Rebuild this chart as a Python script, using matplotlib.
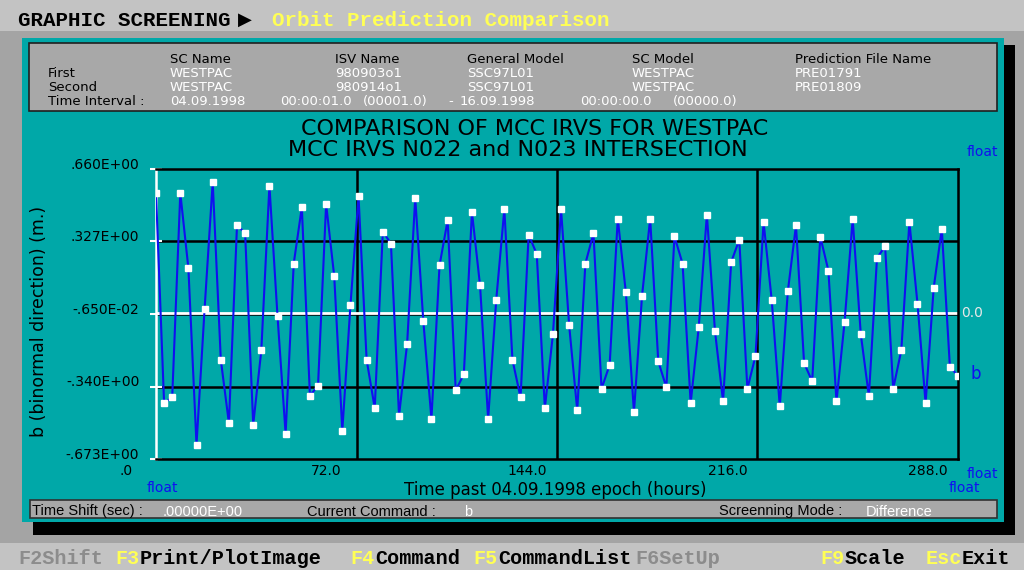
import numpy as np
import matplotlib
matplotlib.use('Agg')
import matplotlib.pyplot as plt
from matplotlib.patches import Rectangle

# values of b, one point every ~2.9 hours from 0 to 288 h
b_diff = [0.550, -0.416, -0.390, 0.550, 0.203, -0.607, 0.018, 0.600, -0.217, -0.508,
          0.401, 0.366, -0.515, -0.174, 0.583, -0.017, -0.557, 0.225, 0.484, -0.382,
          -0.336, 0.499, 0.167, -0.542, 0.033, 0.534, -0.217, -0.439, 0.372, 0.317,
          -0.474, -0.143, 0.527, -0.040, -0.489, 0.217, 0.424, -0.358, -0.283, 0.462,
          0.125, -0.489, 0.059, 0.475, -0.217, -0.390, 0.358, 0.269, -0.439, -0.099,
          0.475, -0.059, -0.450, 0.225, 0.364, -0.350, -0.240, 0.432, 0.093, -0.457,
          0.078, 0.432, -0.224, -0.344, 0.350, 0.225, -0.416, -0.066, 0.450, -0.085,
          -0.408, 0.232, 0.335, -0.350, -0.200, 0.416, 0.059, -0.431, 0.099, 0.401,
          -0.232, -0.316, 0.349, 0.193, -0.408, -0.042, 0.430, -0.099, -0.384, 0.251,
          0.304, -0.350, -0.174, 0.416, 0.041, -0.416, 0.114, 0.384, -0.250, -0.290]
t_start, t_end = 0.0, 288.0
hours = np.linspace(t_start, t_end, len(b_diff))

y_ticks = [0.660, 0.327, -0.0065, -0.340, -0.673]
y_labels = ['.660E+00', '.327E+00', '-.650E-02', '-.340E+00', '-.673E+00']
x_ticks = [0.0, 72.0, 144.0, 216.0, 288.0]
x_labels = ['.0', '72.0', '144.0', '216.0', '288.0']

col_heads = ['SC Name', 'ISV Name', 'General Model', 'SC Model', 'Prediction File Name']
first_row = ['WESTPAC', '980903o1', 'SSC97L01', 'WESTPAC', 'PRE01791']
second_row = ['WESTPAC', '980914o1', 'SSC97L01', 'WESTPAC', 'PRE01809']
interval = ['04.09.1998', '00:00:01.0', '(00001.0)', '-', '16.09.1998', '00:00:00.0', '(00000.0)']

TEAL = '#00a8a8'
GRAY = '#a8a8a8'
LIGHT = '#c3c3c3'
YELLOW = '#ffff55'
BLUE = '#1010f0'
SANS = ['DejaVu Sans']
MONO = ['Liberation Mono', 'DejaVu Sans']
NARROW = ['Liberation Sans Narrow', 'Liberation Sans']

W, H = 1024, 570
fig = plt.figure(figsize=(W / 100, H / 100), dpi=100)
fig.patch.set_facecolor('#a4a4a4')


def rect(x0, y0, x1, y1, fc, ec='none', lw=0):
    fig.patches.append(Rectangle((x0 / W, 1 - y1 / H), (x1 - x0) / W, (y1 - y0) / H,
                                 transform=fig.transFigure, facecolor=fc,
                                 edgecolor=ec, linewidth=lw, zorder=0))


def txt(x, y, s, **kw):
    kw.setdefault('ha', 'left')
    kw.setdefault('va', 'center_baseline')
    kw.setdefault('family', SANS)
    fig.text(x / W, 1 - y / H, s, **kw)


# screen frame
rect(0, 0, W, 31, LIGHT)
rect(0, 543, W, H, LIGHT)
rect(1004, 45, 1015, 535, 'black')
rect(33, 522, 1015, 535, 'black')
rect(22, 38, 1004, 522, TEAL)
rect(29, 43, 997, 111, GRAY, ec='#202020', lw=1.2)
rect(30, 500, 997, 518, GRAY, ec='#303030', lw=1.2)

# title bar
txt(18, 18, 'GRAPHIC SCREENING', family=MONO, weight='bold', fontsize=15, color='black')
txt(238, 18, '\u25b6', family=MONO, fontsize=13, color='black')
txt(272, 18, 'Orbit Prediction Comparison', family=MONO, weight='bold', fontsize=15, color=YELLOW)

# info box
col_x = [170, 335, 467, 632, 795]
for cx, h, a, b in zip(col_x, col_heads, first_row, second_row):
    txt(cx, 58, h, fontsize=9.5, color='black')
    txt(cx, 72, a, fontsize=9.5, color='white')
    txt(cx, 86, b, fontsize=9.5, color='white')
txt(48, 72, 'First', fontsize=9.5)
txt(48, 86, 'Second', fontsize=9.5)
txt(48, 100, 'Time Interval :', fontsize=9.5)
for ix, s in zip([170, 280, 363, 448, 460, 580, 673], interval):
    txt(ix, 100, s, fontsize=9.5, color='white')

# plot titles
txt(535, 127, 'COMPARISON OF MCC IRVS FOR WESTPAC', ha='center', fontsize=16)
txt(518, 148, 'MCC IRVS N022 and N023 INTERSECTION', ha='center', fontsize=16)

# main plot
ax = fig.add_axes([156 / W, 1 - 459 / H, (958 - 156) / W, (459 - 169) / H])
ax.set_zorder(3)
ax.patch.set_alpha(0)
ax.set_xlim(t_start, t_end)
ax.set_ylim(y_ticks[-1], y_ticks[0])
for yv in y_ticks[1:-1]:
    ax.axhline(yv, color='black', lw=1.8, zorder=1)
for xv in x_ticks[1:-1]:
    ax.axvline(xv, color='black', lw=1.8, zorder=1)
for side in ['top', 'right', 'bottom']:
    ax.spines[side].set_color('black')
    ax.spines[side].set_linewidth(1.8)
ax.spines['left'].set_color('white')
ax.spines['left'].set_linewidth(1.8)
ax.axhline(0.0, color='white', lw=2, zorder=2)
ax.plot(hours, b_diff, color=BLUE, lw=1.5, zorder=3)
ax.plot(hours, b_diff, ls='none', marker='s', ms=4, mfc='white', mec='white', zorder=4)

ax.set_yticks(y_ticks)
ax.set_yticklabels([])
ax.set_xticks([])
ax.tick_params(axis='y', direction='inout', length=8, width=1.5, color='white')
for yv, lab in zip(y_ticks, y_labels):
    ax.annotate(lab, (0, yv), xycoords=('axes fraction', 'data'), xytext=(-12, 3),
                textcoords='offset points', ha='right', va='center',
                fontsize=10, family=SANS)
for xv, lab in zip(x_ticks, x_labels):
    ax.annotate(lab, (xv, 0), xycoords=('data', 'axes fraction'), xytext=(-21.6, -8.6),
                textcoords='offset points', ha='center', va='center',
                fontsize=10, family=SANS)
ax.annotate('0.0', (1, 0.0), xycoords=('axes fraction', 'data'), xytext=(2, 0),
            textcoords='offset points', ha='left', va='center', fontsize=10,
            color='#e8e8e8', family=SANS)
ax.set_xlabel('Time past 04.09.1998 epoch (hours)', fontsize=12, family=SANS)
ax.xaxis.set_label_coords(0.4975, -0.076)
ax.set_ylabel('b (binormal direction) (m.)', fontsize=12.5, family=SANS)
ax.yaxis.set_label_coords(-0.135, 0.476)

# blue side labels
txt(147, 487, 'float', fontsize=10, color=BLUE)
txt(967, 151, 'float', fontsize=10, color=BLUE)
txt(967, 473, 'float', fontsize=10, color=BLUE)
txt(949, 486, 'float', fontsize=10, color=BLUE)
txt(971, 372, 'b', fontsize=12, color=BLUE)

# status bar
txt(32, 510, 'Time Shift (sec) :', family=NARROW, fontsize=10.5)
txt(163, 510, '.00000E+00', family=NARROW, fontsize=10.5, color='white')
txt(307, 510, 'Current Command :', family=NARROW, fontsize=10.5)
txt(464, 510, 'b', family=NARROW, fontsize=10.5, color='white')
txt(719, 510, 'Screenning Mode :', family=NARROW, fontsize=10.5)
txt(866, 510, 'Difference', family=NARROW, fontsize=10.5, color='white')

# function key menu: (key, key colour, word, word colour, x where the word starts)
menu = [('', YELLOW, 'F2Shift', '#8c8c8c', 18),
        ('F3', YELLOW, 'Print/PlotImage', 'black', 140),
        ('F4', YELLOW, 'Command', 'black', 375),
        ('F5', YELLOW, 'CommandList', 'black', 498),
        ('', YELLOW, 'F6SetUp', '#8c8c8c', 635),
        ('F9', YELLOW, 'Scale', 'black', 845),
        ('Esc', YELLOW, 'Exit', 'black', 962)]
for key, kc, word, wc, mx in menu:
    if key:
        txt(mx, 557, key, ha='right', family=MONO, weight='bold', fontsize=14.5, color=kc)
    txt(mx, 557, word, family=MONO, weight='bold', fontsize=14.5, color=wc)

fig.savefig('out.png', dpi=100, facecolor=fig.get_facecolor())
